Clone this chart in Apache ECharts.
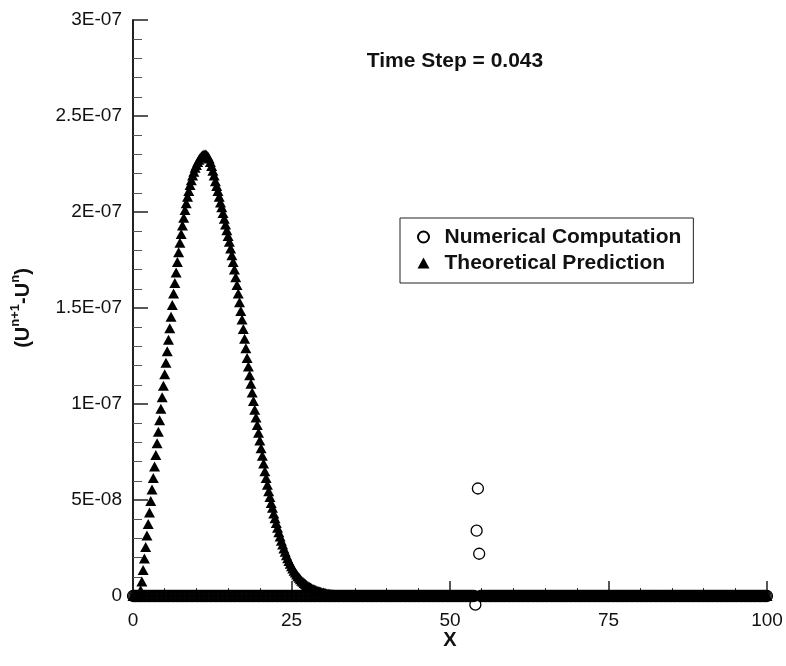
<!DOCTYPE html>
<html>
<head>
<meta charset="utf-8">
<script src="https://cdn.jsdelivr.net/npm/echarts@6/dist/echarts.min.js"></script>
<style>
html,body{margin:0;padding:0;background:#fff;}
#chart{width:786px;height:666px;}
</style>
</head>
<body>
<div id="chart"></div>
<script>
// x grid positions (dx = 0.2)
var xs = [
0,0.2,0.4,0.6,0.8,1,1.2,1.4,1.6,1.8,2,2.2,2.4,2.6,2.8,3,3.2,3.4,3.6,3.8,4,4.2,4.4,4.6,4.8,
5,5.2,5.4,5.6,5.8,6,6.2,6.4,6.6,6.8,7,7.2,7.4,7.6,7.8,8,8.2,8.4,8.6,8.8,9,9.2,9.4,9.6,9.8,
10,10.2,10.4,10.6,10.8,11,11.2,11.4,11.6,11.8,12,12.2,12.4,12.6,12.8,13,13.2,13.4,13.6,13.8,14,14.2,14.4,14.6,14.8,
15,15.2,15.4,15.6,15.8,16,16.2,16.4,16.6,16.8,17,17.2,17.4,17.6,17.8,18,18.2,18.4,18.6,18.8,19,19.2,19.4,19.6,19.8,
20,20.2,20.4,20.6,20.8,21,21.2,21.4,21.6,21.8,22,22.2,22.4,22.6,22.8,23,23.2,23.4,23.6,23.8,24,24.2,24.4,24.6,24.8,
25,25.2,25.4,25.6,25.8,26,26.2,26.4,26.6,26.8,27,27.2,27.4,27.6,27.8,28,28.2,28.4,28.6,28.8,29,29.2,29.4,29.6,29.8,
30,30.2,30.4,30.6,30.8,31,31.2,31.4,31.6,31.8,32,32.2,32.4,32.6,32.8,33,33.2,33.4,33.6,33.8,34,34.2,34.4,34.6,34.8,
35,35.2,35.4,35.6,35.8,36,36.2,36.4,36.6,36.8,37,37.2,37.4,37.6,37.8,38,38.2,38.4,38.6,38.8,39,39.2,39.4,39.6,39.8,
40,40.2,40.4,40.6,40.8,41,41.2,41.4,41.6,41.8,42,42.2,42.4,42.6,42.8,43,43.2,43.4,43.6,43.8,44,44.2,44.4,44.6,44.8,
45,45.2,45.4,45.6,45.8,46,46.2,46.4,46.6,46.8,47,47.2,47.4,47.6,47.8,48,48.2,48.4,48.6,48.8,49,49.2,49.4,49.6,49.8,
50,50.2,50.4,50.6,50.8,51,51.2,51.4,51.6,51.8,52,52.2,52.4,52.6,52.8,53,53.2,53.4,53.6,53.8,54,54.2,54.4,54.6,54.8,
55,55.2,55.4,55.6,55.8,56,56.2,56.4,56.6,56.8,57,57.2,57.4,57.6,57.8,58,58.2,58.4,58.6,58.8,59,59.2,59.4,59.6,59.8,
60,60.2,60.4,60.6,60.8,61,61.2,61.4,61.6,61.8,62,62.2,62.4,62.6,62.8,63,63.2,63.4,63.6,63.8,64,64.2,64.4,64.6,64.8,
65,65.2,65.4,65.6,65.8,66,66.2,66.4,66.6,66.8,67,67.2,67.4,67.6,67.8,68,68.2,68.4,68.6,68.8,69,69.2,69.4,69.6,69.8,
70,70.2,70.4,70.6,70.8,71,71.2,71.4,71.6,71.8,72,72.2,72.4,72.6,72.8,73,73.2,73.4,73.6,73.8,74,74.2,74.4,74.6,74.8,
75,75.2,75.4,75.6,75.8,76,76.2,76.4,76.6,76.8,77,77.2,77.4,77.6,77.8,78,78.2,78.4,78.6,78.8,79,79.2,79.4,79.6,79.8,
80,80.2,80.4,80.6,80.8,81,81.2,81.4,81.6,81.8,82,82.2,82.4,82.6,82.8,83,83.2,83.4,83.6,83.8,84,84.2,84.4,84.6,84.8,
85,85.2,85.4,85.6,85.8,86,86.2,86.4,86.6,86.8,87,87.2,87.4,87.6,87.8,88,88.2,88.4,88.6,88.8,89,89.2,89.4,89.6,89.8,
90,90.2,90.4,90.6,90.8,91,91.2,91.4,91.6,91.8,92,92.2,92.4,92.6,92.8,93,93.2,93.4,93.6,93.8,94,94.2,94.4,94.6,94.8,
95,95.2,95.4,95.6,95.8,96,96.2,96.4,96.6,96.8,97,97.2,97.4,97.6,97.8,98,98.2,98.4,98.6,98.8,99,99.2,99.4,99.6,99.8,
100
];

// Theoretical prediction, in units of 1E-08
var theoretical = [
0,0,0,0,0,0.1,0.3,0.75,1.35,1.95,2.55,3.15,3.75,4.35,4.95,5.55,6.15,6.75,7.35,7.95,8.55,9.15,9.75,10.35,10.95,
11.55,12.15,12.75,13.35,13.95,14.55,15.15,15.75,16.3,16.85,17.4,17.9,18.4,18.85,19.3,19.7,20.1,20.45,20.8,21.1,21.4,21.65,21.9,22.1,22.3,
22.45,22.6,22.72,22.82,22.9,22.96,23.0,23.0,22.97,22.9,22.78,22.6,22.4,22.15,21.9,21.6,21.35,21.1,20.8,20.5,20.25,19.95,19.65,19.35,19.05,
18.75,18.45,18.1,17.75,17.4,17.0,16.6,16.2,15.75,15.3,14.85,14.4,13.9,13.4,12.9,12.4,11.95,11.5,11.05,10.6,10.15,9.7,9.3,8.9,8.5,
8.1,7.7,7.3,6.9,6.5,6.15,5.8,5.45,5.15,4.85,4.6,4.3,4.05,3.8,3.55,3.32,3.1,2.88,2.68,2.48,2.3,2.12,1.96,1.82,1.68,
1.55,1.43,1.32,1.22,1.12,1.03,0.95,0.87,0.8,0.74,0.68,0.62,0.57,0.52,0.48,0.44,0.4,0.37,0.34,0.31,0.28,0.26,0.24,0.22,0.2,
0.18,0.16,0.15,0.13,0.12,0.11,0.1,0.09,0.08,0.07,0.06,0.06,0.05,0.05,0.04,0.04,0.03,0.03,0.02,0.02,0.02,0.01,0.01,0.01,0,
0,0,0,0,0,0,0,0,0,0,0,0,0,0,0,0,0,0,0,0,0,0,0,0,0,
0,0,0,0,0,0,0,0,0,0,0,0,0,0,0,0,0,0,0,0,0,0,0,0,0,
0,0,0,0,0,0,0,0,0,0,0,0,0,0,0,0,0,0,0,0,0,0,0,0,0,
0,0,0,0,0,0,0,0,0,0,0,0,0,0,0,0,0,0,0,0,0,0,0,0,0,
0,0,0,0,0,0,0,0,0,0,0,0,0,0,0,0,0,0,0,0,0,0,0,0,0,
0,0,0,0,0,0,0,0,0,0,0,0,0,0,0,0,0,0,0,0,0,0,0,0,0,
0,0,0,0,0,0,0,0,0,0,0,0,0,0,0,0,0,0,0,0,0,0,0,0,0,
0,0,0,0,0,0,0,0,0,0,0,0,0,0,0,0,0,0,0,0,0,0,0,0,0,
0,0,0,0,0,0,0,0,0,0,0,0,0,0,0,0,0,0,0,0,0,0,0,0,0,
0,0,0,0,0,0,0,0,0,0,0,0,0,0,0,0,0,0,0,0,0,0,0,0,0,
0,0,0,0,0,0,0,0,0,0,0,0,0,0,0,0,0,0,0,0,0,0,0,0,0,
0,0,0,0,0,0,0,0,0,0,0,0,0,0,0,0,0,0,0,0,0,0,0,0,0,
0,0,0,0,0,0,0,0,0,0,0,0,0,0,0,0,0,0,0,0,0,0,0,0,0,
0
];

// Numerical computation, in units of 1E-08
var numerical = [
0,0,0,0,0,0,0,0,0,0,0,0,0,0,0,0,0,0,0,0,0,0,0,0,0,
0,0,0,0,0,0,0,0,0,0,0,0,0,0,0,0,0,0,0,0,0,0,0,0,0,
0,0,0,0,0,0,0,0,0,0,0,0,0,0,0,0,0,0,0,0,0,0,0,0,0,
0,0,0,0,0,0,0,0,0,0,0,0,0,0,0,0,0,0,0,0,0,0,0,0,0,
0,0,0,0,0,0,0,0,0,0,0,0,0,0,0,0,0,0,0,0,0,0,0,0,0,
0,0,0,0,0,0,0,0,0,0,0,0,0,0,0,0,0,0,0,0,0,0,0,0,0,
0,0,0,0,0,0,0,0,0,0,0,0,0,0,0,0,0,0,0,0,0,0,0,0,0,
0,0,0,0,0,0,0,0,0,0,0,0,0,0,0,0,0,0,0,0,0,0,0,0,0,
0,0,0,0,0,0,0,0,0,0,0,0,0,0,0,0,0,0,0,0,0,0,0,0,0,
0,0,0,0,0,0,0,0,0,0,0,0,0,0,0,0,0,0,0,0,0,0,0,0,0,
0,0,0,0,0,0,0,0,0,0,0,0,0,0,0,0,0,0,0,0,-0.45,3.4,5.6,2.2,0,
0,0,0,0,0,0,0,0,0,0,0,0,0,0,0,0,0,0,0,0,0,0,0,0,0,
0,0,0,0,0,0,0,0,0,0,0,0,0,0,0,0,0,0,0,0,0,0,0,0,0,
0,0,0,0,0,0,0,0,0,0,0,0,0,0,0,0,0,0,0,0,0,0,0,0,0,
0,0,0,0,0,0,0,0,0,0,0,0,0,0,0,0,0,0,0,0,0,0,0,0,0,
0,0,0,0,0,0,0,0,0,0,0,0,0,0,0,0,0,0,0,0,0,0,0,0,0,
0,0,0,0,0,0,0,0,0,0,0,0,0,0,0,0,0,0,0,0,0,0,0,0,0,
0,0,0,0,0,0,0,0,0,0,0,0,0,0,0,0,0,0,0,0,0,0,0,0,0,
0,0,0,0,0,0,0,0,0,0,0,0,0,0,0,0,0,0,0,0,0,0,0,0,0,
0,0,0,0,0,0,0,0,0,0,0,0,0,0,0,0,0,0,0,0,0,0,0,0,0,
0
];

var yTickLabels = ['0', '5E-08', '1E-07', '1.5E-07', '2E-07', '2.5E-07', '3E-07'];
var seriesNames = ['Numerical Computation', 'Theoretical Prediction'];
var titleText = 'Time Step = 0.043';

var UNIT = 1e-8;
function pairs(ys) {
  var out = [];
  for (var i = 0; i < xs.length; i++) out.push([xs[i], ys[i] * UNIT]);
  return out;
}

var FONT = '"Liberation Sans", Arial, Helvetica, sans-serif';
var chart = echarts.init(document.getElementById('chart'), null, {renderer: 'canvas'});
chart.setOption({
  animation: false,
  backgroundColor: '#fff',
  textStyle: {fontFamily: FONT},
  title: {
    text: titleText,
    left: 450, top: 46, textAlign: 'center',
    textStyle: {fontFamily: FONT, fontSize: 21, fontWeight: 'bold', color: '#111'}
  },
  grid: {left: 133, top: 20, width: 634, height: 576},
  legend: {
    orient: 'vertical',
    left: 400, top: 218,
    padding: [7, 12, 8, 17],
    itemGap: 2,
    itemWidth: 12, itemHeight: 11,
    borderColor: '#222', borderWidth: 1,
    textStyle: {fontFamily: FONT, fontSize: 21, fontWeight: 'bold', color: '#111', lineHeight: 24, padding: [0, 0, 0, 10]},
    itemStyle: {opacity: 1},
    data: [{name: seriesNames[0], icon: 'circle'}, {name: seriesNames[1], icon: 'triangle'}]
  },
  xAxis: {
    type: 'value', min: 0, max: 100, interval: 25,
    name: 'X', nameLocation: 'middle', nameGap: 34, nameMoveOverlap: false,
    nameTextStyle: {fontFamily: FONT, fontSize: 20, fontWeight: 'bold', color: '#111'},
    axisLine: {show: true, onZero: false, lineStyle: {color: '#222', width: 2}},
    axisTick: {show: true, inside: true, length: 15, lineStyle: {color: '#222', width: 1.5}},
    minorTick: {show: true, splitNumber: 5, length: 8, lineStyle: {color: '#333', width: 1}},
    axisLabel: {fontFamily: FONT, fontSize: 19, color: '#111', margin: 15},
    splitLine: {show: false}
  },
  yAxis: {
    type: 'value', min: 0, max: 3e-7, interval: 5e-8,
    name: '{p|(U}{s|n+1}{p|-U}{s|n}{p|)}',
    nameLocation: 'middle', nameRotate: 90, nameGap: 100, nameMoveOverlap: false,
    nameTextStyle: {
      fontFamily: FONT, fontSize: 20, fontWeight: 'bold', color: '#111',
      rich: {
        p: {fontFamily: FONT, fontSize: 20, fontWeight: 'bold', color: '#111', lineHeight: 24, verticalAlign: 'bottom'},
        s: {fontFamily: FONT, fontSize: 13, fontWeight: 'bold', color: '#111', lineHeight: 24, verticalAlign: 'top', padding: [0, 0, 10, 0]}
      }
    },
    axisLine: {show: true, lineStyle: {color: '#222', width: 2}},
    axisTick: {show: true, inside: true, length: 15, lineStyle: {color: '#222', width: 1.5}},
    minorTick: {show: true, splitNumber: 5, length: 9, lineStyle: {color: '#555', width: 1}},
    axisLabel: {
      fontFamily: FONT, fontSize: 19, color: '#111', margin: 11,
      formatter: function (v, i) { return yTickLabels[i]; }
    },
    splitLine: {show: false}
  },
  series: [
    {
      name: seriesNames[0], type: 'scatter', clip: false,
      symbol: 'circle', symbolSize: 11,
      itemStyle: {color: 'rgba(0,0,0,0)', borderColor: '#000', borderWidth: 1.3, opacity: 1},
      data: pairs(numerical)
    },
    {
      name: seriesNames[1], type: 'scatter', clip: false,
      symbol: 'triangle', symbolSize: [11, 10],
      itemStyle: {color: '#000', opacity: 1},
      data: pairs(theoretical)
    }
  ]
});
</script>
</body>
</html>
